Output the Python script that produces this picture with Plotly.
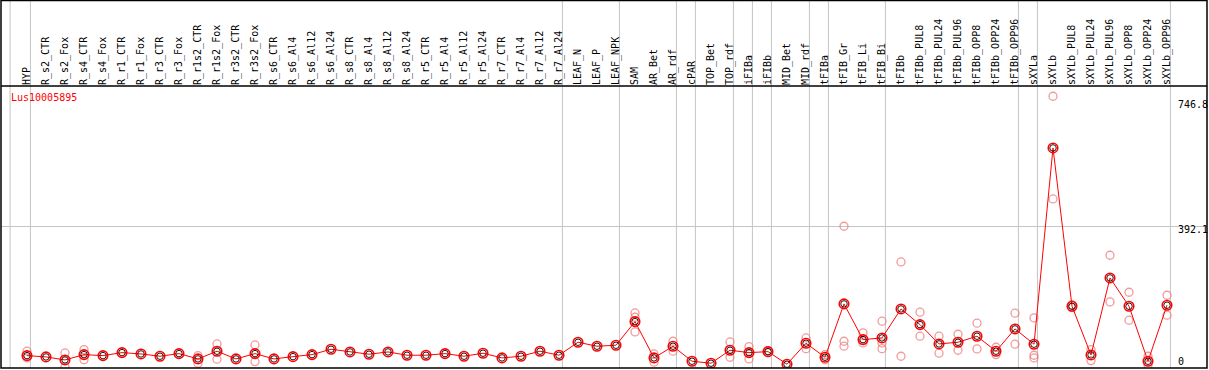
import plotly.graph_objects as go

samples = ["HYP", "R_s2_CTR", "R_s2_Fox", "R_s4_CTR", "R_s4_Fox", "R_r1_CTR", "R_r1_Fox",
           "R_r3_CTR", "R_r3_Fox", "R_r1s2_CTR", "R_r1s2_Fox", "R_r3s2_CTR", "R_r3s2_Fox",
           "R_s6_CTR", "R_s6_Al4", "R_s6_Al12", "R_s6_Al24", "R_s8_CTR", "R_s8_Al4",
           "R_s8_Al12", "R_s8_Al24", "R_r5_CTR", "R_r5_Al4", "R_r5_Al12", "R_r5_Al24",
           "R_r7_CTR", "R_r7_Al4", "R_r7_Al12", "R_r7_Al24", "LEAF_N", "LEAF_P", "LEAF_NPK",
           "SAM", "AR_Bet", "AR_rdf", "cPAR", "TOP_Bet", "TOP_rdf", "iFIBa", "iFIBb",
           "MID_Bet", "MID_rdf", "tFIBa", "tFIB_Gr", "tFIB_Li", "tFIB_Bi", "tFIBb",
           "tFIBb_PUL8", "tFIBb_PUL24", "tFIBb_PUL96", "tFIBb_OPP8", "tFIBb_OPP24",
           "tFIBb_OPP96", "sXYLa", "sXYLb", "sXYLb_PUL8", "sXYLb_PUL24", "sXYLb_PUL96",
           "sXYLb_OPP8", "sXYLb_OPP24", "sXYLb_OPP96"]

mean_values = [31.5, 27.9, 19.5, 34.3, 31.5, 39.9, 36.2, 29.8, 37.1, 22.3, 43.8, 22.3, 37.1,
               22.3, 28.7, 34.3, 49.3, 41.8, 35.4, 41.8, 32.6, 32.6, 37.1, 29.8, 38.2, 25.1,
               29.8, 43.8, 32.6, 68.8, 57.7, 60.5, 126.3, 25.1, 57.7, 15.9, 10.3, 46.5, 39.9,
               42.6, 7.5, 66.1, 27.0, 175.6, 76.1, 80.8, 161.6, 117.9, 64.1, 68.8, 85.6, 43.8,
               105.9, 63.3, 610.4, 169.2, 33.4, 248.0, 169.2, 15.9, 172.0]

# replicate values: (sample index, value)
rep_index = [0, 0, 2, 2, 3, 3, 9, 9, 10, 10, 12, 12, 32, 32, 32, 33, 33, 34, 34, 37, 37,
             38, 38, 39, 39, 41, 41, 42, 42, 43, 43, 43, 44, 44, 45, 45, 45, 46, 46, 47, 47,
             48, 48, 49, 49, 50, 50, 51, 51, 52, 52, 53, 53, 53, 54, 54, 55, 55, 56, 56,
             57, 57, 58, 58, 59, 59, 60, 60]
rep_values = [43.8, 25.1, 39.0, 0.0, 48.2, 20.3, 31.5, 10.3, 64.1, 21.5, 61.3, 14.8,
              150.5, 138.5, 97.5, 36.2, 13.1, 71.6, 43.8, 69.7, 27.0, 56.6, 22.3, 45.4, 39.9,
              80.8, 51.0, 34.3, 20.3, 392.1, 71.6, 57.7, 94.8, 66.9, 127.4, 66.9, 51.0,
              292.6, 29.8, 152.5, 85.6, 85.6, 38.2, 91.1, 46.5, 121.8, 50.2, 54.9, 34.3,
              149.7, 63.3, 136.6, 32.6, 25.1, 754.5, 468.2, 173.6, 165.3, 48.2, 17.6,
              311.3, 181.2, 208.2, 130.2, 29.8, 4.7, 199.8, 144.1]

# last sample index of each group (vertical separators)
group_ends = [-1, 0, 28, 31, 34, 35, 37, 38, 39, 41, 42, 45, 52, 53, 60]

y_ticks = [0, 392.1, 746.8]
y_tick_text = ["0", "392.1", "746.8"]
gene = "Lus10005895"

FONT = "DejaVu Sans Mono"
x_idx = list(range(len(samples)))

fig = go.Figure()

fig.add_trace(go.Scatter(
    x=rep_index, y=rep_values, mode="markers",
    marker=dict(symbol="circle-open", size=8, color="rgba(236,120,120,0.75)",
                line=dict(width=1.3)),
    hoverinfo="skip", showlegend=False))

fig.add_trace(go.Scatter(
    x=x_idx, y=mean_values, mode="lines+markers",
    line=dict(color="#ff0000", width=1),
    marker=dict(symbol="circle-open", size=6.5, color="#000000", line=dict(width=0.9)),
    showlegend=False))

fig.add_trace(go.Scatter(
    x=x_idx, y=mean_values, mode="markers",
    marker=dict(symbol="circle-open", size=9.5, color="#ff0000", line=dict(width=1.6)),
    hoverinfo="skip", showlegend=False))

W, H = 1209, 370
ml, mr, mt, mb = 1, 2, 86, 2
plot_h = H - mt - mb
top_paper = 1 + mt / plot_h

shapes = []
for g in group_ends:
    xpos = g + (0.11 if g < 0 else 0.18)
    shapes.append(dict(type="line", xref="x", yref="paper", x0=xpos, x1=xpos,
                       y0=0, y1=top_paper, line=dict(color="#c4c4c4", width=1),
                       layer="below"))
# outer frame and header separator
shapes.append(dict(type="rect", xref="paper", yref="paper", x0=0, x1=1, y0=0,
                   y1=top_paper - 0.5 / plot_h, line=dict(color="#000000", width=1.5)))
shapes.append(dict(type="line", xref="paper", yref="paper", x0=0, x1=1, y0=1, y1=1,
                   line=dict(color="#000000", width=1.5)))

annotations = [dict(text=gene, xref="paper", yref="paper", x=8 / (W - ml - mr),
                    y=1 - 11 / plot_h, xanchor="left", yanchor="middle", showarrow=False,
                    font=dict(family=FONT, size=10, color="#ff0000"))]
shifts = [5, -3, -6]
for v, t, s in zip(y_ticks, y_tick_text, shifts):
    annotations.append(dict(text=t, xref="paper", yref="y", x=(1176 - ml) / (W - ml - mr),
                            y=v, yshift=s, xanchor="left", yanchor="middle",
                            showarrow=False, font=dict(family=FONT, size=10, color="#000000")))

fig.update_layout(
    width=W, height=H,
    margin=dict(l=ml, r=mr, t=mt, b=mb, pad=0),
    paper_bgcolor="white", plot_bgcolor="white",
    xaxis=dict(range=[-1.368, 62.105], side="top", tickmode="array", tickvals=x_idx,
               ticktext=samples, tickangle=-90, showgrid=False, zeroline=False,
               showline=False, ticks="", tickfont=dict(family=FONT, size=10, color="#000")),
    yaxis=dict(range=[-3, 783], tickmode="array", tickvals=[392.1], showticklabels=False,
               showgrid=True, gridcolor="#c4c4c4", gridwidth=1, zeroline=False,
               showline=False, ticks=""),
    shapes=shapes, annotations=annotations,
)

fig.write_html("out.html", config={"displayModeBar": False},
               post_script="document.body.style.margin='0';document.body.style.overflow='hidden';")
